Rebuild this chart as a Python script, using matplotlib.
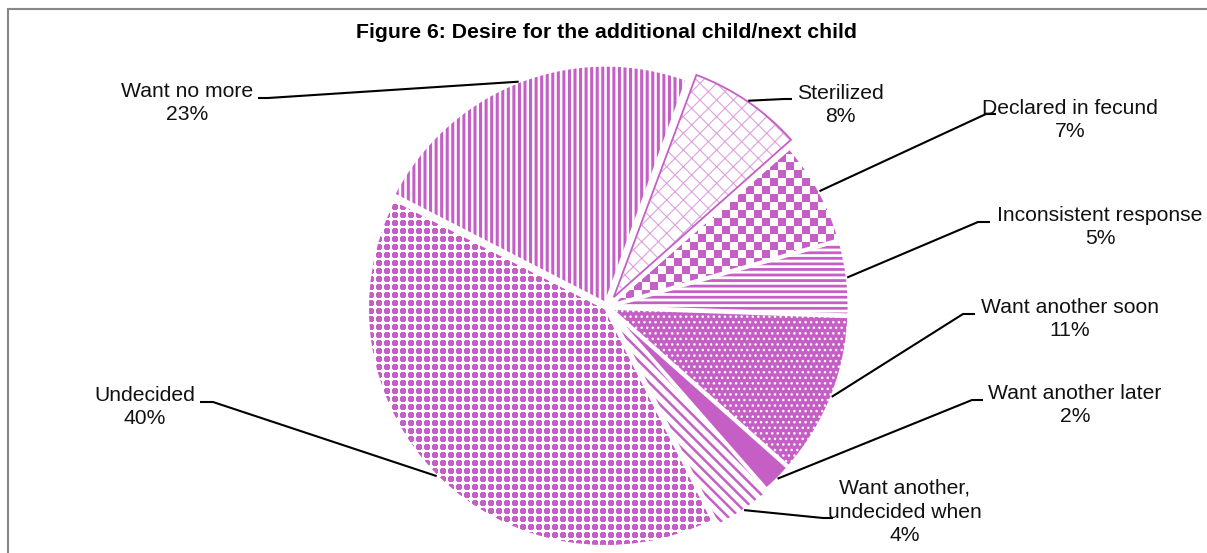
import matplotlib.pyplot as plt
from matplotlib.patches import Rectangle, Wedge
from matplotlib.colors import ListedColormap
import numpy as np

plt.rcParams['font.family'] = ['Liberation Sans', 'DejaVu Sans']

# data, clockwise from the top
categories = ["Sterilized", "Declared in fecund", "Inconsistent response",
              "Want another soon", "Want another later",
              "Want another,\nundecided when", "Undecided", "Want no more"]
shares = [8, 7, 5, 11, 2, 4, 40, 23]

W, H = 1207, 553
purple = '#C55FC5'

# label layout (image pixel coords): text centre, elbow of the leader, end of tick
label_pos = [(840, 105), (1070, 120), (1100, 227), (1070, 319),
             (1075, 405), (905, 512), (145, 407), (187, 103)]
elbows = [(784, 99), (986, 114), (978, 222), (963, 314),
          (972, 400), (823, 518), (213, 402), (268, 98)]
tick_end = [792, 996, 990, 975, 983, 833, 200, 258]

# facecolor, hatch colour, hatch, hatch linewidth ('checker'/'beads' = texture)
styles = [
    ('white', '#DDA3DD', 'xx', 0.8),
    ('white', purple, 'checker', 0.0),
    ('white', purple, '---', 2.0),
    (purple, 'white', '...', 1.0),
    (purple, purple, '', 0.0),
    ('white', purple, '\\\\\\', 1.8),
    ('white', purple, 'beads', 0.0),
    ('white', purple, '|||', 2.2),
]


def texture(kind, bb):
    # 1 data unit == 1 pixel
    x0, y0 = np.floor(bb.x0), np.floor(bb.y0)
    nx, ny = int(bb.width) + 3, int(bb.height) + 3
    yy, xx = np.mgrid[0:ny, 0:nx]
    if kind == 'checker':
        arr = ((xx // 8) + (yy // 8)) % 2
    else:
        cell = 8
        dx = (xx % cell) - (cell - 1) / 2
        dy = (yy % cell) - (cell - 1) / 2
        arr = (np.hypot(dx, dy) < 3.4).astype(int)
    return arr, (x0, x0 + nx, y0, y0 + ny)


fig = plt.figure(figsize=(W / 100, H / 100), dpi=100)
ax = fig.add_axes([0, 0, 1, 1])

# explode is in data units (pixels here)
wedges, _ = ax.pie(shares, center=(607, H - 307), radius=238, startangle=70,
                   counterclock=False,
                   explode=[12, 4, 4, 4, 4, 7, 2, 4],
                   wedgeprops=dict(linewidth=0))

for w, (fc, hc, hatch, hlw) in zip(wedges, styles):
    w.set_facecolor(fc)
    w.set_edgecolor(hc)
    w.set_linewidth(0)
    w.set_zorder(1)
    if hatch in ('checker', 'beads'):
        arr, ext = texture(hatch, w.get_path().get_extents())
        ax.imshow(arr, cmap=ListedColormap(['white', hc]), origin='lower',
                  extent=ext, interpolation='nearest', clip_path=w, zorder=1.5)
    elif hatch:
        w.set_hatch(hatch)
        if hasattr(w, 'set_hatch_linewidth'):
            w.set_hatch_linewidth(hlw)
        else:
            plt.rcParams['hatch.linewidth'] = hlw
    # white slice border
    ax.add_patch(Wedge(w.center, w.r, w.theta1, w.theta2, facecolor='none',
                       edgecolor='white', linewidth=2.0, zorder=2))

# outline on the sterilized slice
s = wedges[0]
ax.add_patch(Wedge(s.center, s.r - 1, s.theta1 + 0.4, s.theta2 - 0.4,
                   facecolor='none', edgecolor=purple, linewidth=1.3, zorder=2.5))

for w, cat, v, (lx, ly), (ex, ey), tx in zip(wedges, categories, shares,
                                               label_pos, elbows, tick_end):
    ang = np.deg2rad((w.theta1 + w.theta2) / 2)
    cx, cy = w.center
    px, py = cx + w.r * np.cos(ang), cy + w.r * np.sin(ang)
    ax.plot([px, ex, tx], [py, H - ey, H - ey], color='black', lw=1.5,
            solid_capstyle='butt', zorder=3)
    ax.text(lx, H - ly, f"{cat}\n{v}%", ha='center', va='center',
            fontsize=15.2, linespacing=1.32, color='#111111')

ax.text(606, H - 33, "Figure 6: Desire for the additional child/next child",
        ha='center', va='center', fontsize=15.3, fontweight='bold')

ax.add_patch(Rectangle((8, -20), W + 20, H - 9 + 20, facecolor='none',
                       edgecolor='#878787', lw=1.5, clip_on=False))

ax.set_xlim(0, W)
ax.set_ylim(0, H)
ax.set_aspect('equal')
ax.axis('off')

fig.savefig('out.png', dpi=100)
